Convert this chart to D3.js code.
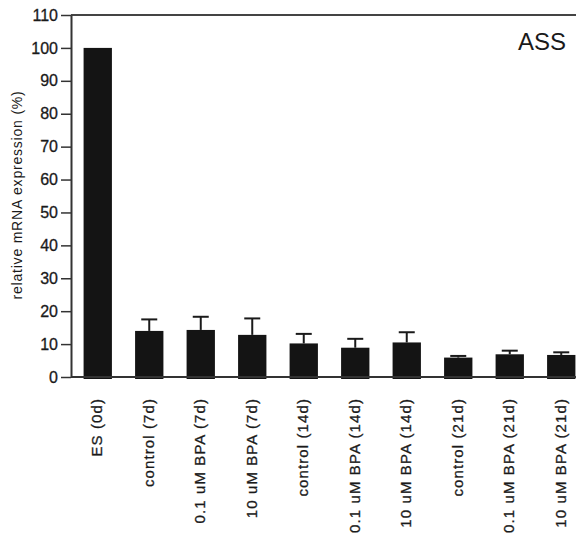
<!DOCTYPE html>
<html>
<head>
<meta charset="utf-8">
<script src="https://cdn.jsdelivr.net/npm/d3@7"></script>
<style>
  body { margin: 0; background: #fff; }
  text { font-family: Arial, "Liberation Sans", sans-serif; fill: #1a1a1a; }
</style>
</head>
<body>
<svg width="576" height="536"></svg>
<script>
const categories = [
  "ES (0d)", "control (7d)", "0.1 uM BPA (7d)", "10 uM BPA (7d)",
  "control (14d)", "0.1 uM BPA (14d)", "10 uM BPA (14d)",
  "control (21d)", "0.1 uM BPA (21d)", "10 uM BPA (21d)"
];
const values = [100, 14.0, 14.3, 12.8, 10.2, 8.9, 10.5, 5.9, 6.9, 6.7];
const errors = [0, 3.5, 4.0, 5.0, 2.9, 2.7, 3.1, 0.5, 1.1, 0.8];
const yTicks = [0, 10, 20, 30, 40, 50, 60, 70, 80, 90, 100, 110];

const svg = d3.select("svg");
const margin = { top: 15, right: 0, bottom: 159, left: 71 };
const width = +svg.attr("width") - margin.left - margin.right;
const height = +svg.attr("height") - margin.top - margin.bottom;

const g = svg.append("g").attr("transform", `translate(${margin.left},${margin.top})`);

const x = d3.scaleBand()
  .domain(categories)
  .range([1, 516])
  .paddingInner(0.45)
  .paddingOuter(0.225);

const y = d3.scaleLinear().domain([0, 110]).range([height, 0]);

// top frame line
g.append("line")
  .attr("x1", 0).attr("x2", width)
  .attr("y1", 0).attr("y2", 0)
  .attr("stroke", "#444")
  .attr("stroke-width", 2);

// y axis
const yAxis = g.append("g")
  .call(d3.axisLeft(y).tickValues(yTicks).tickSize(10).tickPadding(3).tickSizeOuter(0));
yAxis.select(".domain").attr("stroke", "#333").attr("stroke-width", 2);
yAxis.selectAll(".tick line").attr("stroke", "#333").attr("stroke-width", 1.5);
yAxis.selectAll(".tick text")
  .style("font-size", "16px")
  .style("font-family", "Arial, 'Liberation Sans', sans-serif")
  .style("stroke", "#1a1a1a")
  .style("stroke-width", "0.3px")
  .attr("fill", "#1a1a1a");

// bars
g.selectAll(".bar")
  .data(categories)
  .join("rect")
  .attr("class", "bar")
  .attr("x", d => x(d))
  .attr("y", (d, i) => y(values[i]))
  .attr("width", x.bandwidth())
  .attr("height", (d, i) => y(0) - y(values[i]) + 2)
  .attr("fill", "#141414");

// error bars (upper only)
const err = g.selectAll(".err")
  .data(categories.filter((d, i) => errors[i] > 0))
  .join("g")
  .attr("class", "err")
  .attr("stroke", "#1a1a1a")
  .attr("stroke-width", 2);

err.append("line")
  .attr("x1", d => x(d) + x.bandwidth() / 2)
  .attr("x2", d => x(d) + x.bandwidth() / 2)
  .attr("y1", d => y(values[categories.indexOf(d)]))
  .attr("y2", d => { const i = categories.indexOf(d); return y(values[i] + errors[i]); });

err.append("line")
  .attr("x1", d => x(d) + x.bandwidth() / 2 - 8)
  .attr("x2", d => x(d) + x.bandwidth() / 2 + 8)
  .attr("y1", d => { const i = categories.indexOf(d); return y(values[i] + errors[i]); })
  .attr("y2", d => { const i = categories.indexOf(d); return y(values[i] + errors[i]); });

// x axis baseline
g.append("line")
  .attr("x1", 0).attr("x2", width)
  .attr("y1", y(0)).attr("y2", y(0))
  .attr("stroke", "#333")
  .attr("stroke-width", 2);

// x labels, rotated
g.selectAll(".xlabel")
  .data(categories)
  .join("text")
  .attr("class", "xlabel")
  .attr("transform", d => `translate(${x(d) + x.bandwidth() / 2},${height + 21}) rotate(-90)`)
  .attr("dy", "0.3em")
  .attr("text-anchor", "end")
  .style("font-size", "15px")
  .style("letter-spacing", "1.1px")
  .style("stroke", "#1a1a1a")
  .style("stroke-width", "0.3px")
  .text(d => d);

// y axis title
svg.append("text")
  .attr("transform", `translate(17,${margin.top + 180}) rotate(-90)`)
  .attr("dy", "0.35em")
  .attr("text-anchor", "middle")
  .style("font-size", "14px")
  .style("letter-spacing", "0.8px")
  .text("relative mRNA expression (%)");

// panel title
svg.append("text")
  .attr("x", 566)
  .attr("y", 50)
  .attr("text-anchor", "end")
  .style("font-size", "24px")
  .attr("fill", "#333")
  .text("ASS");
</script>
</body>
</html>
